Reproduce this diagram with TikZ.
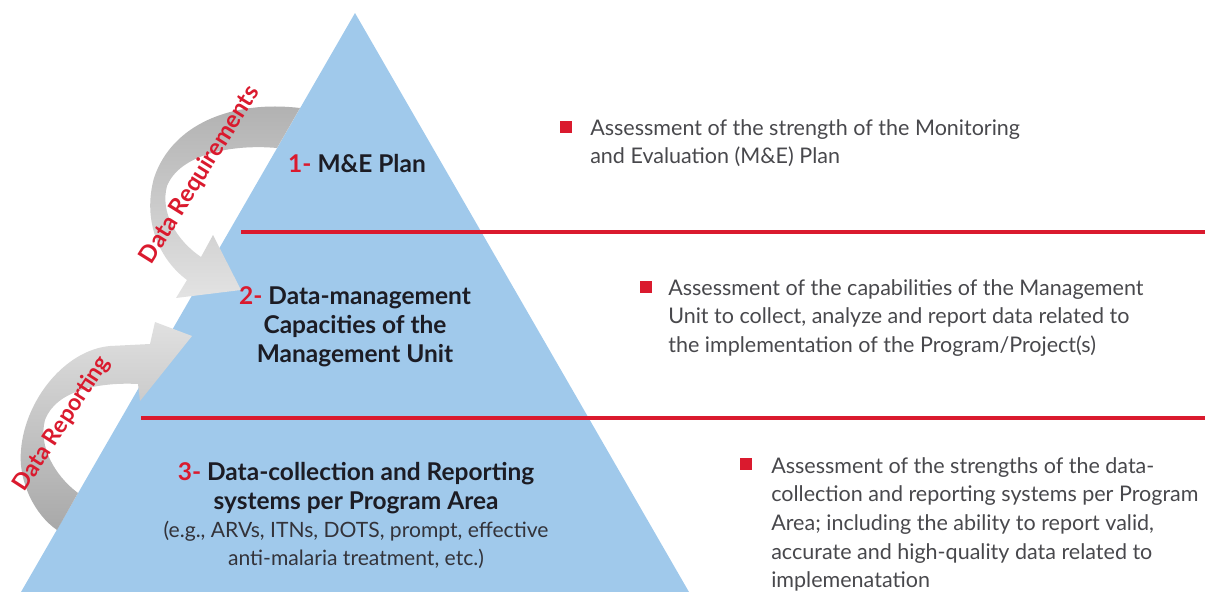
\documentclass[tikz,border=0pt]{standalone}
\usepackage{fontspec}
\setmainfont{Lato}
\usetikzlibrary{positioning,calc}

\definecolor{pyrblue}{RGB}{160,201,235}
\definecolor{mered}{RGB}{218,26,46}
\definecolor{descgray}{RGB}{72,72,76}
\definecolor{labelblack}{RGB}{28,28,36}

\begin{document}
\begin{tikzpicture}[
  x=0.025cm, y=-0.025cm,
  level/.style={align=center, text=labelblack, inner sep=0pt, font=\fontsize{17.4}{20.6}\selectfont\bfseries},
  example/.style={align=center, text=labelblack!90, inner sep=0pt, font=\fontsize{15}{19.6}\selectfont},
  bullet/.style={rectangle, fill=mered, minimum size=9pt, inner sep=0pt},
  desc/.style={align=left, anchor=north west, text=descgray, inner sep=0pt, font=\fontsize{15.3}{20.4}\selectfont},
  sep/.style={draw=mered, line width=2.8pt},
  flowlabel/.style={text=mered, inner sep=0pt, font=\fontsize{17}{18}\selectfont\bfseries},
]

\useasboundingbox (0,0) rectangle (1205,592);

% === Pyramid ===
\coordinate (apex) at (355,13);
\coordinate (baseL) at (21,592);
\coordinate (baseR) at (689,592);
\fill[pyrblue] (apex) -- (baseR) -- (baseL) -- cycle;

% === Separators ===
\coordinate (sepA) at (241,232);
\coordinate (sepB) at (141,418);
\draw[sep] (sepA) -- (1205,232);
\draw[sep] (sepB) -- (1205,418);

% === Data Requirements arrow (level 1 -> level 2) ===
\coordinate (reqTo) at (300,108);
\coordinate (reqTi) at (277,148);
\coordinate (reqTip) at (241,290);
\shade[top color=gray!62, bottom color=gray!22]
  (reqTo) .. controls (232,100) and (172,124) .. (154,178)
  .. controls (142,222) and (160,260) .. (187,280)
  -- (176,298) -- (reqTip) -- (213,235) -- (201,257)
  .. controls (176,240) and (160,212) .. (167,186)
  .. controls (180,154) and (232,144) .. (reqTi) -- cycle;
\node[flowlabel, rotate=58] (req) at (200,175) {Data Requirements};

% === Data Reporting arrow (level 3 -> level 2) ===
\coordinate (repTo) at (57,530);
\coordinate (repTi) at (78,493);
\coordinate (repTip) at (192,336);
\shade[top color=gray!24, bottom color=gray!68]
  (repTo) .. controls (35,515) and (18,482) .. (21,450)
  .. controls (25,400) and (65,350) .. (110,346)
  -- (150,344) -- (155,322) -- (repTip) -- (140,401) -- (138,384)
  .. controls (100,382) and (56,390) .. (45,420)
  .. controls (38,446) and (55,476) .. (repTi) -- cycle;
\node[flowlabel, font=\fontsize{16.4}{18}\selectfont\bfseries, rotate=57] (rep) at (62,424) {Data Reporting};

% === Pyramid levels ===
\node[level] (lvl1) at (357,164) {\textcolor{mered}{1-} M\&E Plan};
\node[level] (lvl2) at (355,327)
  {\textcolor{mered}{2-} Data-management\\Capacities of the\\Management Unit};
\node[level] (lvl3) at (356,488)
  {\textcolor{mered}{3-} Data-collection and Reporting\\systems per Program Area};
\node[example] (lvl3ex) at (356,545)
  {(e.g., ARVs, ITNs, DOTS, prompt, effective\\anti-malaria treatment, etc.)};

% === Assessments ===
\node[bullet] (b1) at (566,127) {};
\node[desc] (d1) at (590,119)
  {Assessment of the strength of the Monitoring\\
   and Evaluation (M\&E) Plan};

\node[bullet] (b2) at (646,287) {};
\node[desc] (d2) at (668,279)
  {Assessment of the capabilities of the Management\\
   Unit to collect, analyze and report data related to\\
   the implementation of the Program/Project(s)};

\node[bullet] (b3) at (746,464) {};
\node[desc] (d3) at (771,457)
  {Assessment of the strengths of the data-\\
   collection and reporting systems per Program\\
   Area; including the ability to report valid,\\
   accurate and high-quality data related to\\
   implemenatation};

\end{tikzpicture}
\end{document}
